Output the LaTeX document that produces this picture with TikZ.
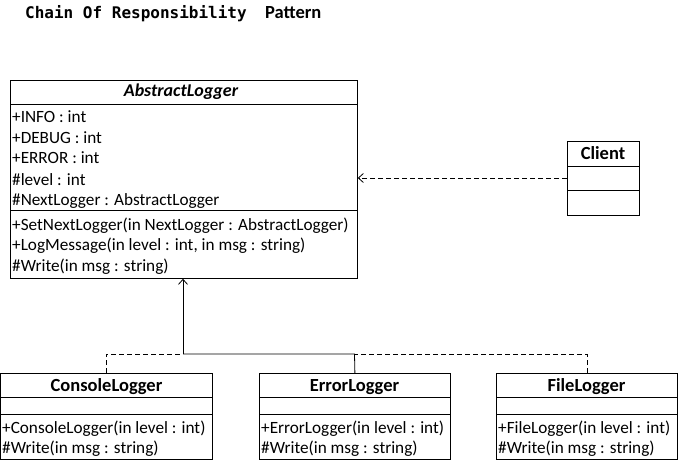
\documentclass[tikz,border=0pt]{standalone}
\usepackage{fontspec}
\setmainfont{Carlito}
\newfontfamily\titlemono{DejaVu Sans Mono}
\usetikzlibrary{arrows.meta}
\tikzset{
  box/.style={draw, line width=0.8pt, anchor=north west, inner sep=0pt},
  rowtxt/.style={anchor=base west, inner sep=0pt, font=\fontsize{17.2}{19}\selectfont},
  headtxt/.style={anchor=base, inner sep=0pt, font=\fontsize{18.5}{20}\selectfont\bfseries},
  sepline/.style={line width=0.8pt},
  dep/.style={line width=0.8pt, dash pattern=on 5pt off 3pt, -{Straight Barb[length=5pt,width=9pt]}},
  gen/.style={line width=0.8pt, -{Straight Barb[length=5pt,width=9pt]}},
  solidline/.style={line width=0.8pt},
  dashline/.style={line width=0.8pt, dash pattern=on 5pt off 3pt}
}
\begin{document}
\begin{tikzpicture}[x=1pt,y=-1pt]
\useasboundingbox (0,0) rectangle (678,460);
\fill[white] (0,0) rectangle (678,460);
% title
\node[anchor=base west, inner sep=0pt] (title) at (25,19) {\fontsize{16}{18}\titlemono\bfseries Chain Of Responsibility};
\node[anchor=base west, inner sep=0pt] (title2) at (265,19) {\fontsize{18.5}{20}\selectfont\bfseries Pattern};
% AbstractLogger
\node[box, minimum width=347pt, minimum height=198pt] (abs) at (10,80) {};
\draw[sepline] (10,104) -- (357,104);
\draw[sepline] (10,210) -- (357,210);
\node[headtxt, font=\fontsize{18}{20}\selectfont\bfseries\itshape] (absname) at (181,97) {AbstractLogger};
\node[rowtxt] (a1) at (12,122) {+INFO : int};
\node[rowtxt] (a2) at (12,143) {+DEBUG : int};
\node[rowtxt] (a3) at (12,164) {+ERROR : int};
\node[rowtxt] (a4) at (12,185) {\#level : int};
\node[rowtxt] (a5) at (12,205) {\#NextLogger : AbstractLogger};
\node[rowtxt] (m1) at (12,230) {+SetNextLogger(in NextLogger : AbstractLogger)};
\node[rowtxt] (m2) at (12,250) {+LogMessage(in level : int, in msg : string)};
\node[rowtxt] (m3) at (12,271) {\#Write(in msg : string)};
% Client
\node[box, minimum width=72pt, minimum height=74pt] (client) at (567,141) {};
\draw[sepline] (567,166) -- (639,166);
\draw[sepline] (567,190) -- (639,190);
\node[headtxt] (clientname) at (603,159) {Client};
% subclasses
\node[box, minimum width=212pt, minimum height=86pt] (console) at (0,373) {};
\draw[sepline] (0,397) -- (212,397);
\draw[sepline] (0,414) -- (212,414);
\node[headtxt] (consolename) at (106.5,391) {ConsoleLogger};
\node[rowtxt] (c1) at (2,433) {+ConsoleLogger(in level : int)};
\node[rowtxt] (c2) at (2,453) {\#Write(in msg : string)};

\node[box, minimum width=191pt, minimum height=86pt] (error) at (259,373) {};
\draw[sepline] (259,397) -- (450,397);
\draw[sepline] (259,414) -- (450,414);
\node[headtxt] (errorname) at (354.5,391) {ErrorLogger};
\node[rowtxt] (e1) at (261,433) {+ErrorLogger(in level : int)};
\node[rowtxt] (e2) at (261,453) {\#Write(in msg : string)};

\node[box, minimum width=181pt, minimum height=86pt] (file) at (496,373) {};
\draw[sepline] (496,397) -- (677,397);
\draw[sepline] (496,414) -- (677,414);
\node[headtxt] (filename) at (586.5,391) {FileLogger};
\node[rowtxt] (f1) at (498,433) {+FileLogger(in level : int)};
\node[rowtxt] (f2) at (498,453) {\#Write(in msg : string)};

% connectors
\draw[dep] (client.west |- 0,178) -- (abs.east |- 0,178);
\coordinate (junc) at (183,354);
\coordinate (ejunc) at (354.5,354);
\draw[gen] (junc) -- (abs.south -| junc);
\draw[solidline] (error.north) -- (ejunc) -- (junc);
\draw[dashline] (console.north) |- (junc);
\draw[dashline] (file.north) |- (ejunc);
\end{tikzpicture}
\end{document}
